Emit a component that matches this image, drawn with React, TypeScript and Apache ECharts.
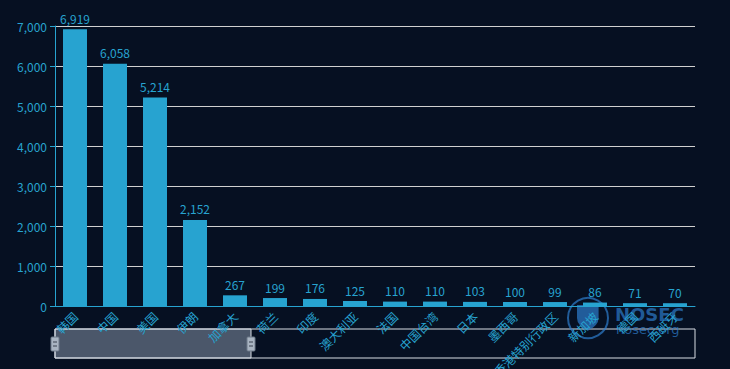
import React, { useEffect, useRef } from "react";
import * as echarts from "echarts";

const categories = [
  "韩国", "中国", "美国", "伊朗", "加拿大", "荷兰", "印度", "澳大利亚",
  "法国", "中国台湾", "日本", "墨西哥", "中国香港特别行政区", "新加坡", "德国", "西班牙",
];
const values = [6919, 6058, 5214, 2152, 267, 199, 176, 125, 110, 110, 103, 100, 99, 86, 71, 70];
const yTicks = { min: 0, max: 7000, interval: 1000 };

const BLUE = "#27a3d0";
const FONT = "'Noto Sans CJK SC', 'Noto Sans', sans-serif";
const fmt = (v: number) => v.toLocaleString("en-US");

export default function App() {
  const ref = useRef<HTMLDivElement>(null);
  useEffect(() => {
    if (!ref.current) return;
    echarts.graphic.registerShape(
      "shieldMark",
      echarts.graphic.extendPath("M0 0 L24 0 L24 14 Q24 22 12 28 Q0 22 0 14 Z", {})
    );
    const chart = echarts.init(ref.current, null, { renderer: "svg" });
    const wm = "rgba(45,125,205,0.7)";
    chart.setOption({
      animation: false,
      backgroundColor: "#061022",
      textStyle: { fontFamily: FONT },
      grid: { left: 55, right: 35, top: 26, bottom: 63, containLabel: false, outerBoundsMode: "none" },
      xAxis: {
        type: "category",
        data: categories,
        axisLine: { lineStyle: { color: BLUE } },
        axisTick: { alignWithLabel: true, lineStyle: { color: BLUE } },
        axisLabel: { interval: 0, rotate: 45, color: BLUE, fontSize: 12, fontFamily: FONT },
      },
      yAxis: {
        type: "value",
        min: yTicks.min,
        max: yTicks.max,
        interval: yTicks.interval,
        axisLine: { show: true, lineStyle: { color: BLUE } },
        axisTick: { show: true, lineStyle: { color: BLUE } },
        axisLabel: { color: BLUE, fontSize: 12, fontFamily: FONT, formatter: (v: number) => fmt(v) },
        splitLine: { lineStyle: { color: "#d0d0d0" } },
      },
      series: [
        {
          type: "bar",
          data: values,
          barWidth: "60%",
          itemStyle: { color: BLUE },
          label: {
            show: true,
            position: "top",
            color: BLUE,
            fontSize: 12,
            fontFamily: FONT,
            formatter: (p: any) => fmt(p.value),
          },
        },
      ],
      graphic: [
        // slider frame
        { type: "rect", shape: { x: 55, y: 329, width: 640, height: 29 }, style: { fill: "transparent", stroke: "#d8dde4", lineWidth: 1 } },
        { type: "rect", shape: { x: 55, y: 329, width: 196, height: 29 }, style: { fill: "rgba(160,175,195,0.45)", stroke: "#d8dde4", lineWidth: 1 } },
        { type: "rect", shape: { x: 51, y: 337, width: 8, height: 14, r: 1 }, style: { fill: "#a9b4c2", stroke: "#6f7b8a", lineWidth: 1 } },
        { type: "line", shape: { x1: 53, y1: 342, x2: 57, y2: 342 }, style: { stroke: "#3b4250", lineWidth: 1 } },
        { type: "line", shape: { x1: 53, y1: 346, x2: 57, y2: 346 }, style: { stroke: "#3b4250", lineWidth: 1 } },
        { type: "rect", shape: { x: 247, y: 337, width: 8, height: 14, r: 1 }, style: { fill: "#a9b4c2", stroke: "#6f7b8a", lineWidth: 1 } },
        { type: "line", shape: { x1: 249, y1: 342, x2: 253, y2: 342 }, style: { stroke: "#3b4250", lineWidth: 1 } },
        { type: "line", shape: { x1: 249, y1: 346, x2: 253, y2: 346 }, style: { stroke: "#3b4250", lineWidth: 1 } },
        // watermark
        { type: "circle", shape: { cx: 588, cy: 318, r: 20 }, style: { fill: "transparent", stroke: wm, lineWidth: 2 } },
        { type: "shieldMark", x: 577, y: 305, scaleX: 0.9, scaleY: 0.92, style: { fill: wm } },
        { type: "text", x: 615, y: 305, style: { text: "NOSEC", fill: wm, font: "bold 18px 'DejaVu Sans', sans-serif" } },
        { type: "text", x: 616, y: 323, style: { text: "nosec.org", fill: wm, font: "13px 'DejaVu Sans', sans-serif" } },
      ],
    });
    return () => chart.dispose();
  }, []);
  return <div ref={ref} style={{ width: 730, height: 369, position: "absolute", left: 0, top: 0 }} />;
}
